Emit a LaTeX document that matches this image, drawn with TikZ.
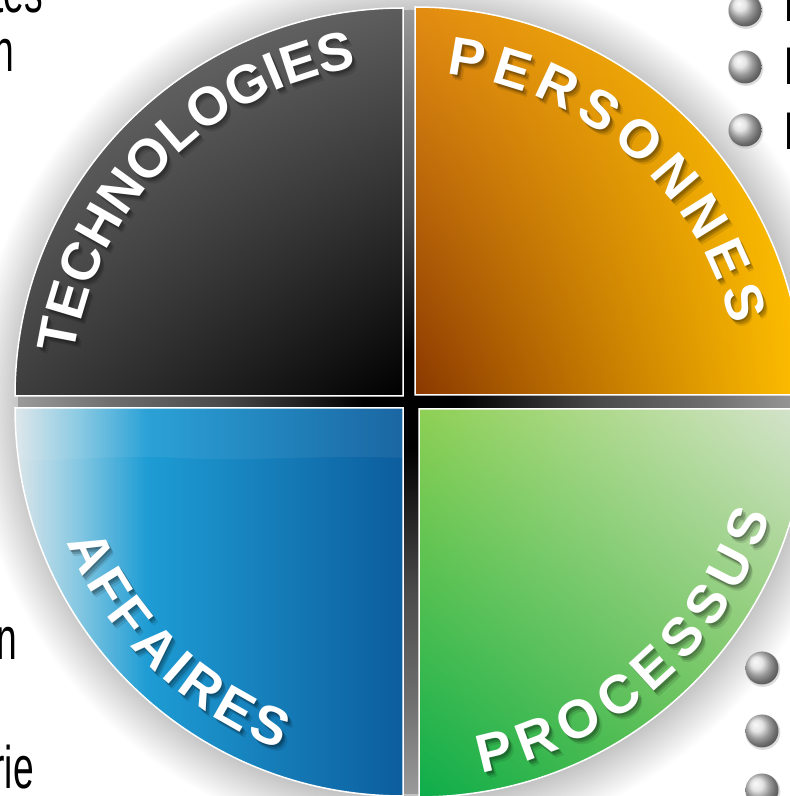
\documentclass[tikz,border=0pt]{standalone}
\usepackage{fontspec}
\setmainfont{Liberation Sans}
\newfontfamily\labelfont{Liberation Sans}
\newfontfamily\sidefont[FakeStretch=0.62]{Liberation Sans}
\usetikzlibrary{decorations.text,shadings}

% quadrant colours
\definecolor{tlA}{HTML}{787878}
\definecolor{tlB}{HTML}{5C5C5C}
\definecolor{tlC}{HTML}{3E3E3E}
\definecolor{tlD}{HTML}{000000}
\definecolor{trA}{HTML}{E28C12}
\definecolor{trB}{HTML}{FFC300}
\definecolor{trC}{HTML}{8A3800}
\definecolor{trD}{HTML}{FFBE00}
\definecolor{brA}{HTML}{8ED054}
\definecolor{brB}{HTML}{D6E4CF}
\definecolor{brC}{HTML}{0DAD4C}
\definecolor{brD}{HTML}{70C246}
\definecolor{blA}{HTML}{DDE6EA}
\definecolor{blB}{HTML}{86C8E2}
\definecolor{blC}{HTML}{1E9CD4}
\definecolor{blD}{HTML}{0C5D9D}
\definecolor{crossMid}{HTML}{4A4A4A}
\definecolor{crossOut}{HTML}{6E6E6E}
\definecolor{crossEdge}{HTML}{9A9A9A}

% dark disc that shows through the gaps between the quadrants
\pgfdeclareradialshading{crossdisc}{\pgfpoint{0bp}{0bp}}{color(0bp)=(black); color(3bp)=(black); color(12bp)=(crossMid); color(19bp)=(crossOut); color(25bp)=(crossEdge); color(50bp)=(crossEdge)}
% horizontal blue ramp for the lower left quadrant
\pgfdeclarehorizontalshading{bluegrad}{100bp}{color(0bp)=(blA); color(25bp)=(blA); color(33bp)=(blB); color(42bp)=(blC); color(75bp)=(blD); color(100bp)=(blD)}

\newcommand\lblfont{\labelfont\bfseries\fontsize{54}{54}\selectfont}

% curved white label with a soft drop shadow
% #1 start angle, #2 end angle, #3 baseline radius, #4 font, #5 text, #6 alignment
\newcommand\arclabel[6]{%
  \foreach \dx/\dy/\op in {1.5/-2/0.2, 3/-4/0.18, 4.5/-6/0.1}{%
    \begin{scope}[opacity=\op]
      \path[decorate, decoration={text along path, text={|#4|#5},
        text align={#6}, text color=black}]
        (410+\dx,394+\dy) ++(#1:#3pt) arc[start angle=#1, end angle=#2, radius=#3pt];
    \end{scope}}
  \path[decorate, decoration={text along path, text={|#4|#5},
    text align={#6}, text color=white}]
    (410,394) ++(#1:#3pt) arc[start angle=#1, end angle=#2, radius=#3pt];
}

\tikzset{
  quad/.style={draw=white, line width=1.5pt},
  sidetext/.style={inner sep=0pt, text=black, font=\sidefont\fontsize{60}{60}\selectfont},
  sidetextR/.style={inner sep=0pt, text=black, font=\sidefont\fontsize{53}{53}\selectfont},
}

\begin{document}
\begin{tikzpicture}[x=1pt,y=1pt]
\useasboundingbox (0,0) rectangle (790,796);
\clip (0,0) rectangle (790,796);
\fill[white] (0,0) rectangle (790,796);

% soft shadow around the disc
\foreach \k in {0,...,29}{%
  \pgfmathsetmacro\rr{394+1.6*\k}
  \fill[black, opacity=0.0095] (414,390) circle[radius=\rr pt];
}

% dark disc behind the quadrants
\shade[shading=crossdisc] (410,394) circle[radius=392pt];

% the four quadrants
\shadedraw[quad, upper left=tlA, upper right=tlB, lower left=tlC, lower right=tlD]
  (403,400) -- (15,400) arc[start angle=180, end angle=90, radius=388pt] -- cycle;
\shadedraw[quad, upper left=trA, upper right=trB, lower left=trC, lower right=trD]
  (415,401) -- (415,789) arc[start angle=90, end angle=0, radius=388pt] -- cycle;
\shadedraw[quad, shading=bluegrad]
  (403,388) -- (15,388) arc[start angle=180, end angle=270, radius=388pt] -- cycle;
\shadedraw[quad, upper left=brA, upper right=brB, lower left=brC, lower right=brD]
  (419,387) -- (807,387) arc[start angle=0, end angle=-90, radius=388pt] -- cycle;

% faint sheen over the upper band of the blue quadrant
\begin{scope}
  \clip (403,388) -- (15,388) arc[start angle=180, end angle=270, radius=388pt] -- cycle;
  \fill[white, opacity=0.06] (15,388) -- (403,388) -- (403,338)
    .. controls (330,342) and (250,334) .. (180,338)
    .. controls (110,342) and (60,334) .. (15,336) -- cycle;
\end{scope}

% curved labels
\arclabel{172}{80}{339}{\lblfont}{TECHNOLOGIES}{left}
\arclabel{83.6}{13.5}{330}{\lblfont}{PERSONNES}{fit to path}
\arclabel{202.3}{249.5}{371}{\lblfont}{AFFAIRES}{fit to path}
\arclabel{280.9}{342.5}{378}{\lblfont}{PROCESSUS}{fit to path}

% list bullets
\foreach \p in {(745,786),(745,729),(745,666),(762,128),(762,65),(762,6)}{%
  \fill[gray!45, opacity=0.6] \p ++(0.8,-1.4) circle[radius=17.5pt];
  \shade[ball color=gray!28] \p circle[radius=16.5pt];
}

% surrounding text
\node[sidetext, anchor=base east] (ltop) at (43,783) {tes};
\node[sidetext, anchor=base east] (ltwo) at (14,724) {n};
\node[sidetext, anchor=base east] (lthree) at (17,136) {n};
\node[sidetext, anchor=base east] (lfour) at (34,8) {rie};
\node[sidetextR, anchor=base west] (rone) at (784,774) {I};
\node[sidetextR, anchor=base west] (rtwo) at (784,711) {I};
\node[sidetextR, anchor=base west] (rthree) at (784,646) {I};
\end{tikzpicture}
\end{document}
